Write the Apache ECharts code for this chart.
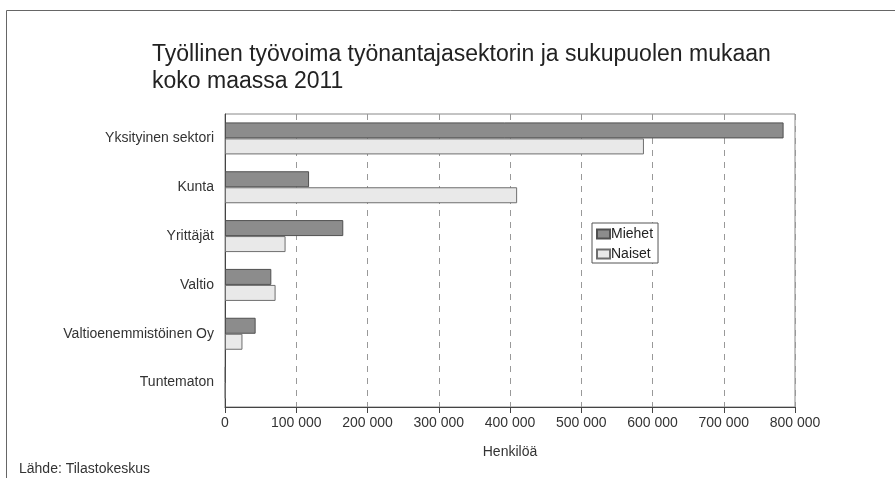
<!DOCTYPE html>
<html><head><meta charset="utf-8">
<script src="https://cdn.jsdelivr.net/npm/echarts@6/dist/echarts.min.js"></script>
<style>html,body{margin:0;padding:0;background:#fff}#c{width:895px;height:478px}</style>
</head><body><div id="c"></div>
<script>
const categories = ["Yksityinen sektori","Kunta","Yrittäjät","Valtio","Valtioenemmistöinen Oy","Tuntematon"];
const miehet = [784000,118000,166000,65000,43000,1000];
const naiset = [588000,410000,85000,71000,24500,800];
const xTicks = [0,100000,200000,300000,400000,500000,600000,700000,800000];
const titleLines = ["Työllinen työvoima työnantajasektorin ja sukupuolen mukaan","koko maassa 2011"];
const FONT = "Liberation Sans, Arial, sans-serif";
const chart = echarts.init(document.getElementById('c'));
chart.setOption({
  animation:false,
  backgroundColor:'#fff',
  title:{text:titleLines.join('\n'),left:147,top:36,textStyle:{fontFamily:FONT,fontSize:23,fontWeight:'normal',color:'#222',lineHeight:27}},
  graphic:[
    {type:'polyline',shape:{points:[[6.5,478],[6.5,10.5],[895,10.5]]},style:{stroke:'#666',lineWidth:1,fill:null}},
    {type:'text',left:19,top:462,style:{text:'Lähde: Tilastokeskus',font:'14px '+FONT,fill:'#333'}}
  ],
  legend:{orient:'vertical',left:592,top:223,data:['Miehet','Naiset'],
    backgroundColor:'#fff',borderColor:'#555',borderWidth:1,padding:[4,5,2,4],itemGap:6,
    itemWidth:13,itemHeight:9,icon:'rect',textStyle:{fontFamily:FONT,fontSize:14,color:'#222',padding:[0,0,0,-4]}},
  grid:{left:225,right:100,top:114,bottom:71,show:true,borderColor:'#888',borderWidth:1},
  xAxis:{type:'value',min:0,max:800000,interval:100000,
    name:'Henkilöä',nameLocation:'middle',nameGap:38,nameTextStyle:{fontFamily:FONT,fontSize:14,color:'#333'},
    axisLine:{show:true,lineStyle:{color:'#444'}},axisTick:{show:true,length:6,lineStyle:{color:'#444'}},
    axisLabel:{fontFamily:FONT,fontSize:14,color:'#333',margin:9,
      formatter:v=>xTicks.includes(v)?String(v).replace(/\B(?=(\d{3})+(?!\d))/g,' '):''},
    splitLine:{show:true,lineStyle:{color:'#999',type:[6,6],width:1}}},
  yAxis:{type:'category',data:categories,inverse:true,
    axisLine:{show:true,lineStyle:{color:'#444'}},axisTick:{show:false},
    axisLabel:{fontFamily:FONT,fontSize:14,color:'#333',margin:11}},
  series:[
    {name:'Miehet',type:'bar',data:miehet,barWidth:16,barGap:'0%',
      itemStyle:{color:'#8c8c8c',borderColor:'#505050',borderWidth:1}},
    {name:'Naiset',type:'bar',data:naiset,barWidth:16,barGap:'0%',
      itemStyle:{color:'#e9e9e9',borderColor:'#6e6e6e',borderWidth:1}}
  ]
});
</script></body></html>
